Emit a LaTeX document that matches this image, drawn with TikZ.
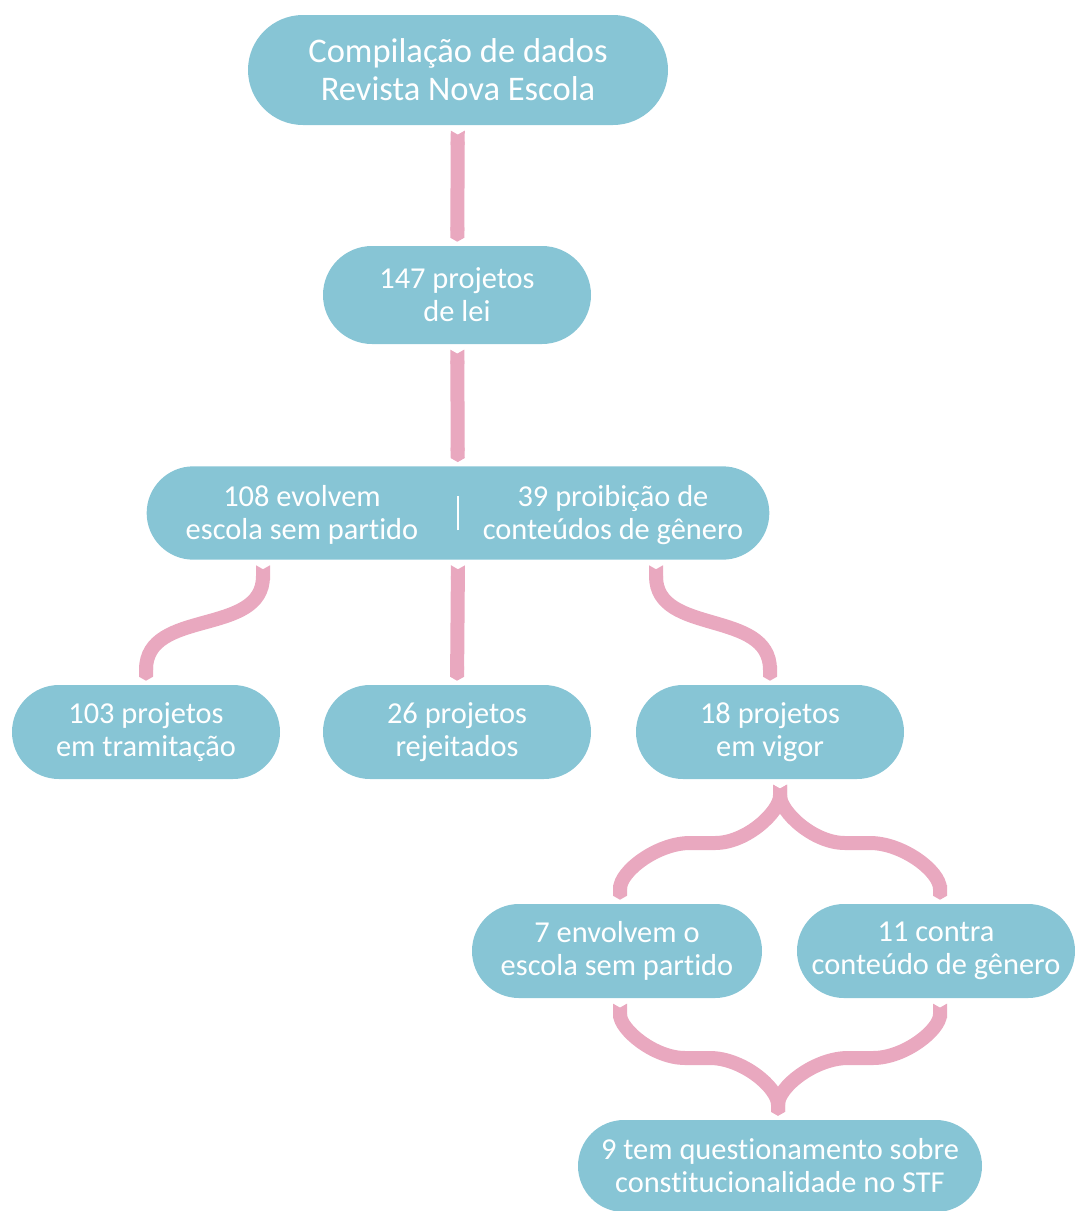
\documentclass[tikz,border=0pt]{standalone}
\usepackage{fontspec}
\setmainfont{Carlito}[Ligatures=NoCommon]
\usetikzlibrary{arrows.meta,shapes.misc,calc}
\definecolor{boxblue}{RGB}{135,197,213}
\definecolor{ribbonpink}{RGB}{233,168,191}

\begin{document}
\begin{tikzpicture}[x=0.75pt,y=0.75pt,yscale=-1,xscale=1,
  box/.style={rounded rectangle, fill=boxblue, text=white, align=center, inner sep=0pt, minimum width=201pt, minimum height=70.5pt, font=\fontsize{22.8}{24.75}\selectfont},
  ribbon/.style={draw=ribbonpink, line width=10.5pt, {Triangle Cap[reversed,length=3pt]}-{Triangle Cap[length=3pt]}, shorten <=4pt, shorten >=3pt}]
\useasboundingbox (0,0) rectangle (1075,1211);

% Text Node
\node (n1) [box, minimum width=315pt, minimum height=82.5pt, font=\fontsize{25.9}{28.5}\selectfont] at (458,70) {Compilação de dados\\Revista Nova Escola};
% Text Node
\node (n2) [box, minimum height=73.5pt] at (457,295) {147 projetos\\de lei};
% Text Node
\node (n3) [box, minimum width=467pt, minimum height=70pt] at (458,513) {};
\node (n3l) [text=white, align=center, inner sep=0pt, font=\fontsize{22.8}{24.75}\selectfont] at (302,515) {108 evolvem\\escola sem partido};
\node (n3r) [text=white, align=center, inner sep=0pt, font=\fontsize{22.8}{24.75}\selectfont] at (613,515) {39 proibição de\\conteúdos de gênero};
\draw [white, line width=1.2pt] ([yshift=13pt]n3.center) -- ([yshift=-13pt]n3.center);
% Text Node
\node (n4) [box] at (146,732) {103 projetos\\em tramitação};
\node (n5) [box] at (457,732) {26 projetos\\rejeitados};
\node (n6) [box] at (770,732) {18 projetos\\em vigor};
% Text Node
\node (n7) [box, minimum width=217.5pt] at (617,951) {7 envolvem o\\escola sem partido};
\node (n8) [box, minimum width=208.5pt] at (936,951) {11 contra\\conteúdo de gênero};
% Text Node
\node (n9) [box, minimum width=303pt, minimum height=69pt] at (780,1166) {9 tem questionamento sobre\\constitucionalidade no STF};

%Straight Lines
\draw [ribbon] (n1) -- (n2);
\draw [ribbon] (n2) -- (n3);
\draw [ribbon] (n3.south) -- (n5.north);
%Curve Lines
\draw [ribbon] ($(n3.south)+(-195,0)$) to[out=90,in=-90,looseness=1.15] (n4.north);
\draw [ribbon] ($(n3.south)+(198,0)$) to[out=90,in=-90,looseness=1.15] (n6.north);
\draw [ribbon] ($(n6.south)+(10,0)$) to[out=90,in=0,looseness=0.9] (715,843) -- (690,843) to[out=180,in=-90,looseness=0.9] ($(n7.north)+(3,0)$);
\draw [ribbon] ($(n6.south)+(10,0)$) to[out=90,in=180,looseness=0.9] (845,843) -- (870,843) to[out=0,in=-90,looseness=0.9] ($(n8.north)+(4,0)$);
\draw [ribbon] ($(n7.south)+(3,0)$) to[out=90,in=180,looseness=0.9] (685,1058) -- (710,1058) to[out=0,in=-90,looseness=0.9] ($(n9.north)+(-2,0)$);
\draw [ribbon] ($(n8.south)+(4,0)$) to[out=90,in=0,looseness=0.9] (873,1058) -- (848,1058) to[out=180,in=-90,looseness=0.9] ($(n9.north)+(-2,0)$);

\end{tikzpicture}
\end{document}
